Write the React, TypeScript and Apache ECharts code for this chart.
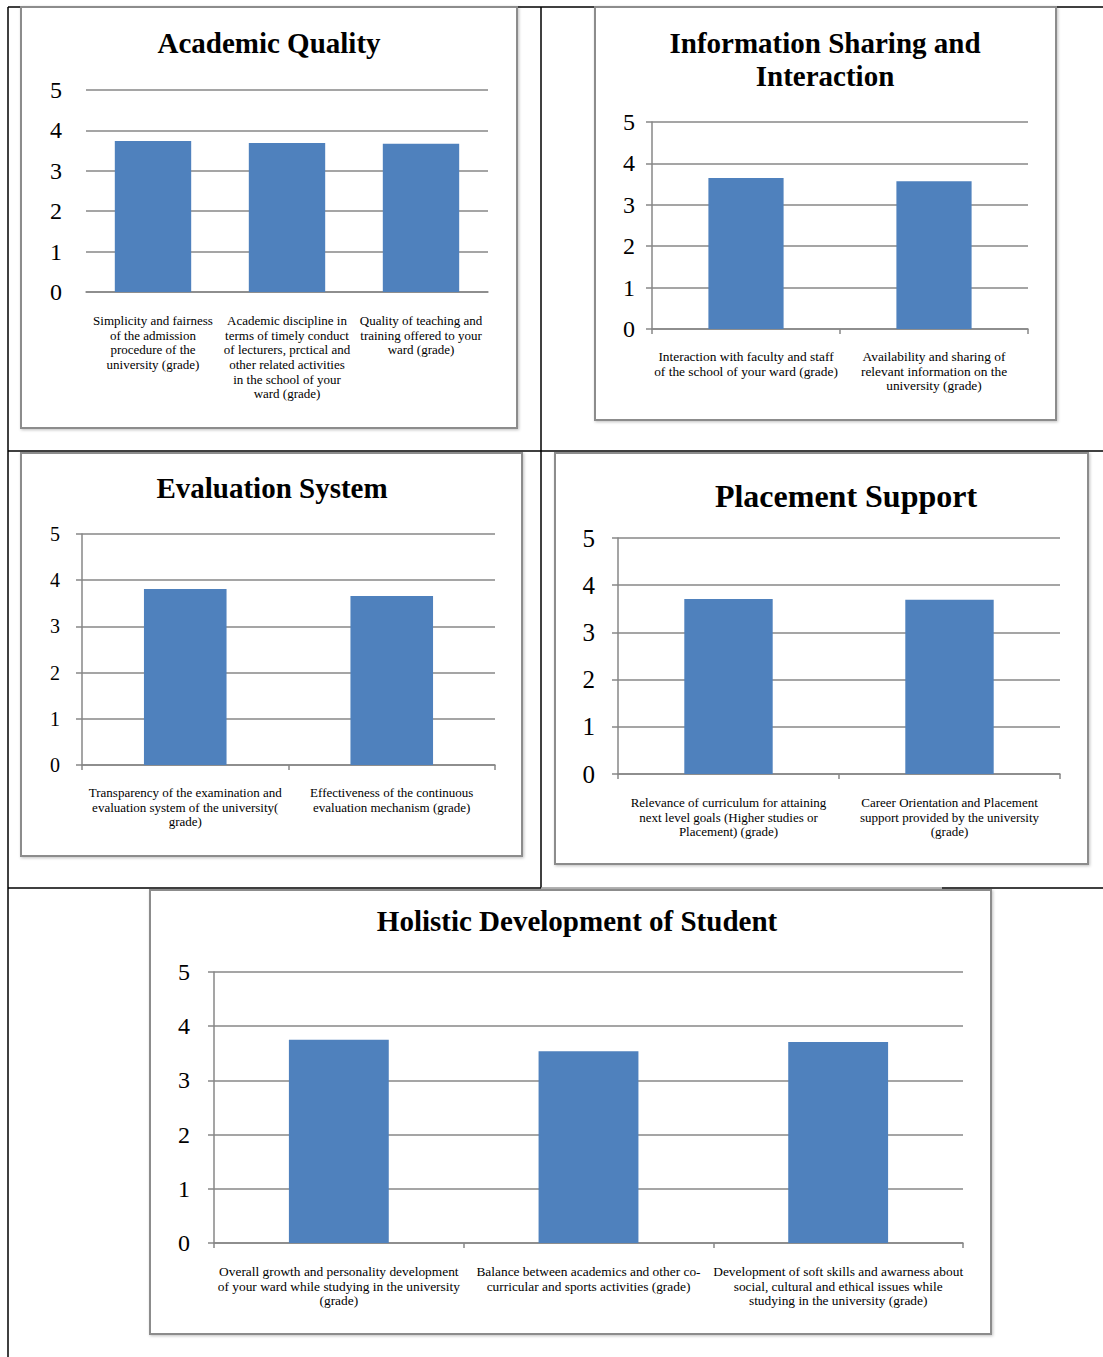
import React, { useEffect, useRef } from "react";
import * as echarts from "echarts";

const academicCategories = [
  "Simplicity and fairness\nof the admission\nprocedure of the\nuniversity (grade)",
  "Academic discipline in\nterms of timely conduct\nof lecturers, prctical and\nother related activities\nin the school of your\nward (grade)",
  "Quality of teaching and\ntraining offered to your\nward (grade)",
];
const academicValues = [3.74, 3.69, 3.67];

const infoCategories = [
  "Interaction with faculty and staff\nof the school of your ward (grade)",
  "Availability and sharing of\nrelevant information on the\nuniversity (grade)",
];
const infoValues = [3.65, 3.57];

const evalCategories = [
  "Transparency of the examination and\nevaluation system of the university(\ngrade)",
  "Effectiveness of the continuous\nevaluation mechanism (grade)",
];
const evalValues = [3.81, 3.66];

const placementCategories = [
  "Relevance of curriculum for attaining\nnext level goals (Higher studies or\nPlacement) (grade)",
  "Career Orientation and Placement\nsupport provided by the university\n(grade)",
];
const placementValues = [3.71, 3.69];

const holisticCategories = [
  "Overall growth and personality development\nof your ward while studying in the university\n(grade)",
  "Balance between academics and other co-\ncurricular and sports activities (grade)",
  "Development of soft skills and awarness about\nsocial, cultural and ethical issues while\nstudying in the university (grade)",
];
const holisticValues = [3.75, 3.54, 3.71];

const yMin = 0;
const yMax = 5;
const yStep = 1;

const FONT = '"Liberation Serif", "DejaVu Serif", serif';
const BAR = "#4F81BD";
const GRID = "#878787";

type PanelCfg = {
  grid: { left: number; top: number; width: number; height: number };
  cats: string[];
  vals: number[];
  barWidth: string;
  yFont: number;
  yMargin: number;
  xMargin: number;
  xFont: number;
  showYAxis: boolean;
  showXTicks: boolean;
};

const panels: PanelCfg[] = [
  { grid: { left: 86, top: 90, width: 402, height: 202 }, cats: academicCategories, vals: academicValues, barWidth: "57%", yFont: 24, yMargin: 24, xMargin: 21, xFont: 13, showYAxis: false, showXTicks: false },
  { grid: { left: 652, top: 122, width: 376, height: 207 }, cats: infoCategories, vals: infoValues, barWidth: "40%", yFont: 24, yMargin: 17, xMargin: 20, xFont: 13.4, showYAxis: true, showXTicks: true },
  { grid: { left: 82, top: 534, width: 413, height: 231 }, cats: evalCategories, vals: evalValues, barWidth: "40%", yFont: 20, yMargin: 22, xMargin: 20, xFont: 13, showYAxis: true, showXTicks: true },
  { grid: { left: 618, top: 538, width: 442, height: 236 }, cats: placementCategories, vals: placementValues, barWidth: "40%", yFont: 25, yMargin: 23, xMargin: 21, xFont: 13, showYAxis: true, showXTicks: true },
  { grid: { left: 214, top: 972, width: 749, height: 271 }, cats: holisticCategories, vals: holisticValues, barWidth: "40%", yFont: 24, yMargin: 24, xMargin: 21, xFont: 13.4, showYAxis: true, showXTicks: true },
];

const titles = [
  { text: "Academic Quality", x: 269, y: 43, size: 29 },
  { text: "Information Sharing and", x: 825, y: 43, size: 29 },
  { text: "Interaction", x: 825, y: 76, size: 29 },
  { text: "Evaluation System", x: 272, y: 488, size: 29 },
  { text: "Placement Support", x: 846, y: 496, size: 32 },
  { text: "Holistic Development of Student", x: 577, y: 921, size: 29 },
];

const boxes = [
  { x: 21, y: 7, w: 496, h: 421 },
  { x: 595, y: 7, w: 461, h: 413 },
  { x: 21, y: 453, w: 501, h: 403 },
  { x: 555, y: 453, w: 533, h: 411 },
  { x: 150, y: 890, w: 841, h: 444 },
];

const tableLines = [
  { x1: 8, y1: 7, x2: 1103, y2: 7, c: "#000" },
  { x1: 8, y1: 7, x2: 8, y2: 1357, c: "#000" },
  { x1: 541, y1: 7, x2: 541, y2: 888, c: "#000" },
  { x1: 8, y1: 451, x2: 1103, y2: 451, c: "#000" },
  { x1: 8, y1: 888, x2: 541, y2: 888, c: "#000" },
  { x1: 541, y1: 888, x2: 942, y2: 888, c: "#9a9a9a" },
  { x1: 942, y1: 888, x2: 1103, y2: 888, c: "#000" },
];

export default function App() {
  const ref = useRef<HTMLDivElement>(null);
  useEffect(() => {
    if (!ref.current) return;
    const chart = echarts.init(ref.current, undefined, { renderer: "svg" });

    const graphic: any[] = [];
    tableLines.forEach((l) =>
      graphic.push({
        type: "line",
        z: -20,
        shape: { x1: l.x1, y1: l.y1, x2: l.x2, y2: l.y2 },
        style: { stroke: l.c, lineWidth: 1.5 },
      })
    );
    boxes.forEach((b) =>
      graphic.push({
        type: "rect",
        z: -10,
        shape: { x: b.x, y: b.y, width: b.w, height: b.h },
        style: {
          fill: "#ffffff",
          stroke: "#8c8c8c",
          lineWidth: 2,
          shadowBlur: 3,
          shadowOffsetX: 1,
          shadowOffsetY: 1,
          shadowColor: "rgba(0,0,0,0.25)",
        },
      })
    );
    titles.forEach((t) =>
      graphic.push({
        type: "text",
        x: t.x,
        y: t.y,
        z: 5,
        style: {
          text: t.text,
          fontFamily: FONT,
          fontWeight: "bold",
          fontSize: t.size,
          fill: "#000",
          textAlign: "center",
          textVerticalAlign: "middle",
        },
      })
    );

    const option: any = {
      animation: false,
      backgroundColor: "#ffffff",
      graphic,
      grid: panels.map((p) => ({ ...p.grid, containLabel: false })),
      xAxis: panels.map((p, i) => ({
        type: "category",
        gridIndex: i,
        data: p.cats,
        axisLine: { show: true, lineStyle: { color: GRID, width: 1.5 } },
        axisTick: { show: p.showXTicks, length: 5, lineStyle: { color: GRID, width: 1.5 } },
        axisLabel: {
          interval: 0,
          margin: p.xMargin,
          fontFamily: FONT,
          fontSize: p.xFont,
          lineHeight: 14.7,
          color: "#000",
          align: "center",
        },
      })),
      yAxis: panels.map((p, i) => ({
        type: "value",
        gridIndex: i,
        min: yMin,
        max: yMax,
        interval: yStep,
        axisLine: { show: p.showYAxis, lineStyle: { color: GRID, width: 1.5 } },
        axisTick: { show: p.showYAxis, length: 6, lineStyle: { color: GRID, width: 1.5 } },
        splitLine: { show: true, lineStyle: { color: GRID, width: 1.5 } },
        axisLabel: {
          margin: p.yMargin,
          fontFamily: FONT,
          fontSize: p.yFont,
          color: "#000",
        },
      })),
      series: panels.map((p, i) => ({
        type: "bar",
        xAxisIndex: i,
        yAxisIndex: i,
        data: p.vals,
        barWidth: p.barWidth,
        itemStyle: { color: BAR },
      })),
    };
    chart.setOption(option);
    return () => chart.dispose();
  }, []);

  return (
    <div
      ref={ref}
      style={{ position: "absolute", left: 0, top: 0, width: 1103, height: 1357, background: "#fff" }}
    />
  );
}
